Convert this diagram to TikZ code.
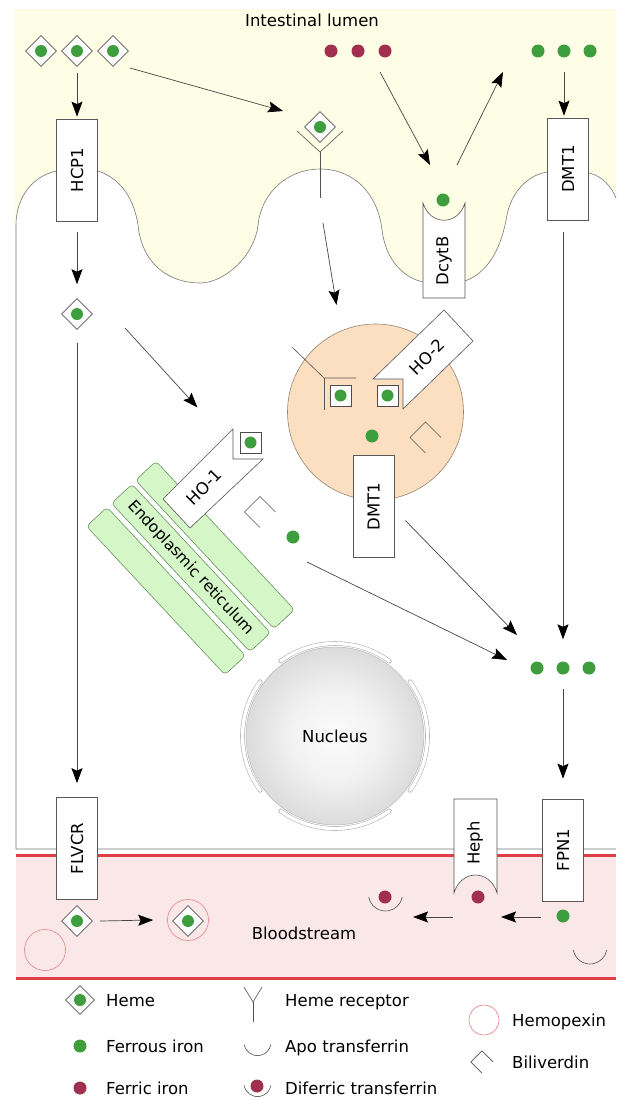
\documentclass[tikz,border=0pt]{standalone}
\usepackage{fontspec}
\setmainfont{DejaVu Sans}
\usetikzlibrary{arrows.meta, positioning, shapes.geometric, calc}

\definecolor{lumen}{RGB}{254,253,229}
\definecolor{blood}{RGB}{250,232,233}
\definecolor{vessel}{RGB}{224,62,70}
\definecolor{ferrous}{RGB}{62,158,62}
\definecolor{ferric}{RGB}{160,48,78}
\definecolor{endofill}{RGB}{252,222,192}
\definecolor{endoline}{RGB}{150,132,112}
\definecolor{erfill}{RGB}{213,246,198}
\definecolor{erline}{RGB}{104,146,96}
\definecolor{hpxline}{RGB}{230,128,128}
\definecolor{memb}{RGB}{120,120,120}

\pgfdeclareradialshading{nucleus}{\pgfpoint{0bp}{0bp}}{color(0bp)=(gray!3); color(12bp)=(gray!10); color(50bp)=(gray!62)}

\newcommand\vtext[1]{\rotatebox{90}{#1}}

\begin{document}
\begin{tikzpicture}[
  x=1pt, y=1pt,
  font=\fontsize{16.5}{19}\selectfont,
  >={Stealth[length=15pt, width=11pt, inset=2.5pt, color=black]},
  arr/.style={->, draw=gray!55!black, line width=0.7pt},
  thinline/.style={draw=gray!65!black, line width=0.6pt},
  protein/.style={draw=gray!70!black, fill=white, line width=0.7pt, minimum width=41pt, minimum height=102pt, inner sep=0pt},
  fetwo/.style={circle, fill=ferrous, minimum size=13pt, inner sep=0pt},
  fethree/.style={circle, fill=ferric, minimum size=13pt, inner sep=0pt},
  heme/.style={diamond, draw=gray!70!black, fill=white, line width=0.6pt, minimum size=31pt, inner sep=0pt,
    path picture={\fill[ferrous] (path picture bounding box.center) circle (6pt);}},
  hemesq/.style={rectangle, draw=black!70, fill=white, line width=0.9pt, minimum size=21pt, inner sep=0pt,
    path picture={\fill[ferrous] (path picture bounding box.center) circle (6pt);}},
  hemopexin/.style={circle, draw=hpxline, line width=0.6pt, minimum size=41pt, inner sep=0pt},
  er/.style={draw=erline, fill=erfill, line width=0.6pt, rounded corners=4pt, rotate=-47, minimum width=203pt, minimum height=28pt, inner sep=0pt},
  envelope/.style={draw=gray!60, double=white, double distance=3.4pt, line width=0.6pt, line cap=round},
  key/.style={anchor=base west, inner sep=0pt},
  apo/.pic={\draw[thinline] (190:17) arc (190:350:17);},
  bili/.pic={\draw[thinline] (15.5,0) -- (0,15.5) -- (-15.5,0) -- (0,-15.5);},
]
  \useasboundingbox (0,0) rectangle (616,-1100);

  % lumen above the brush border
  \fill[lumen] (14,-9) -- (616,-9) -- (616,-198)
    .. controls (612,-188) and (603,-176) .. (589,-173) -- (548,-172)
    .. controls (530,-174) and (512,-190) .. (507,-215)
    .. controls (502,-245) and (490,-272) .. (465,-281) -- (423,-282)
    .. controls (405,-278) and (386,-262) .. (382,-230)
    .. controls (378,-195) and (355,-169) .. (320,-169)
    .. controls (290,-169) and (262,-190) .. (258,-225)
    .. controls (255,-255) and (225,-283) .. (200,-283)
    .. controls (170,-283) and (142,-265) .. (138,-225)
    .. controls (135,-205) and (125,-180) .. (98,-171) -- (57,-171)
    .. controls (35,-175) and (16,-195) .. (16,-225) -- (14,-225) -- cycle;

  \fill[blood] (16,-856) rectangle (616,-978);
  \draw[vessel, line width=3pt] (16,-855) -- (616,-855);
  \draw[vessel, line width=3pt] (16,-978) -- (616,-978);

  % cell outline
  \draw[thinline, draw=memb] (616,-849) -- (16,-849) -- (16,-225)
    .. controls (16,-195) and (35,-175) .. (57,-171) -- (98,-171)
    .. controls (125,-180) and (135,-205) .. (138,-225)
    .. controls (142,-265) and (170,-283) .. (200,-283)
    .. controls (225,-283) and (255,-255) .. (258,-225)
    .. controls (262,-190) and (290,-169) .. (320,-169)
    .. controls (355,-169) and (378,-195) .. (382,-230)
    .. controls (386,-262) and (405,-278) .. (423,-282) -- (465,-281)
    .. controls (490,-272) and (502,-245) .. (507,-215)
    .. controls (512,-190) and (530,-174) .. (548,-172) -- (589,-173)
    .. controls (603,-176) and (612,-188) .. (616,-198);

  \node[circle, draw=endoline, fill=endofill, line width=0.6pt, minimum size=176pt, inner sep=0pt] (endo) at (375.5,-412) {};

  \node[er] (er3) at (166,-591) {};
  \node[er] (er2) at (191,-568) {\fontsize{15.5}{18}\selectfont Endoplasmic reticulum};
  \node[er] (er1) at (215,-545) {};

  \node[circle, draw=gray!60, shading=nucleus, minimum size=178pt, inner sep=0pt] (nuc) at (335,-736) {Nucleus};
  \foreach \s/\e in {-36/36, 54/126, 144/216, 234/306}
    \draw[envelope] ([shift={(\s:92.5)}]nuc.center) arc[start angle=\s, end angle=\e, radius=92.5];

  % transporters
  \node[protein] (hcp) at (77,-170) {\vtext{HCP1}};
  \node[protein] (dmtA) at (568,-169) {\vtext{DMT1}};
  \node[protein] (dmtB) at (373.5,-506.5) {\vtext{DMT1}};
  \node[protein] (flvcr) at (77,-848.5) {\vtext{FLVCR}};
  \node[protein] (fpn) at (563,-850) {\vtext{FPN1}};
  \draw[thinline, fill=white] (423,-203) .. controls (430,-226) and (458,-226) .. (465,-203)
    -- (465,-298) -- (423,-298) -- cycle;
  \node (dcytb) at (444,-261) {\vtext{DcytB}};
  \draw[thinline, fill=white] (454,-799) -- (497,-799) -- (497,-893)
    .. controls (490,-869) and (461,-869) .. (454,-893) -- cycle;
  \node (heph) at (475,-843) {\vtext{Heph}};

  % heme oxygenases
  \draw[thinline, fill=white] (373,-379) -- (444,-310) -- (473,-341) -- (403,-409) -- (403,-379) -- cycle;
  \node[rotate=45] (ho2) at (427,-357) {HO-2};
  \draw[thinline, fill=white] (163,-499) -- (233,-429) -- (233,-459) -- (263,-459) -- (190,-528) -- cycle;
  \node[rotate=45] (ho1) at (204,-487) {HO-1};

  % heme receptor, apical and endosomal
  \node[heme] (rhem) at (320,-127) {};
  \draw[thinline] (297,-131) -- (320,-152) -- (343,-131);
  \draw[thinline] (320,-152) -- (320,-198) coordinate (rbase);
  \draw[thinline] (292,-347) -- (324,-378) -- (356,-378);
  \draw[thinline] (324,-378) -- (324,-410);

  \node[hemesq] (hsqA) at (340.5,-395.5) {};
  \node[hemesq] (hsqB) at (387.5,-395.5) {};
  \node[hemesq] (hsqC) at (250.5,-442.5) {};

  \node[heme] (hemeA) at (41,-51) {};
  \node[heme] (hemeB) at (77,-51) {};
  \node[heme] (hemeC) at (113,-51) {};
  \node[heme] (hemeD) at (77,-314) {};
  \node[heme] (hemeE) at (77,-921) {};
  \node[hemopexin] (hpxA) at (188,-920) {};
  \node[heme] (hemeF) at (188,-921) {};
  \node[hemopexin] (hpxB) at (45,-950) {};

  \node[fethree] (fe3a) at (331,-51) {};
  \node[fethree] (fe3b) at (358,-51) {};
  \node[fethree] (fe3c) at (385,-51) {};
  \node[fetwo] (fe2a) at (538,-51) {};
  \node[fetwo] (fe2b) at (564,-51) {};
  \node[fetwo] (fe2c) at (590,-51) {};
  \node[fetwo] (fe2d) at (443,-200) {};
  \node[fetwo] (fe2e) at (372,-436) {};
  \node[fetwo] (fe2h) at (293,-537) {};
  \node[fetwo] (pl1) at (537,-668) {};
  \node[fetwo] (pl2) at (563,-668) {};
  \node[fetwo] (pl3) at (589,-668) {};
  \node[fetwo] (fe2f) at (563,-916) {};
  \node[fethree] (fe3h) at (478,-897) {};
  \node[fethree] (fe3t) at (385,-897) {};

  \pic at (385.5,-894) {apo};
  \pic at (590,-947) {apo};
  \pic at (425.5,-437.5) {bili};
  \pic at (260,-512) {bili};

  \draw[arr] ([yshift=-6pt]hemeB.south) -- ([yshift=2pt]hcp.north);
  \draw[arr] ([shift={(17,-17)}]hemeC.center) -- ([shift={(-37,16)}]rhem.center);
  \draw[arr] ([shift={(-5,-21)}]fe3c.center) -- ([shift={(-13,35)}]fe2d.center);
  \draw[arr] ([shift={(14,35)}]fe2d.center) -- ([shift={(-35,-21)}]fe2a.center);
  \draw[arr] ([yshift=-14pt]fe2b.south) -- ($(fe2b.south |- dmtA.north)+(0,2)$);
  \draw[arr] ([yshift=-11pt]hcp.south) -- ([yshift=14pt]hemeD.north);
  \draw[arr] ([yshift=-13pt]hemeD.south) -- ([yshift=14pt]flvcr.north);
  \draw[arr] ([shift={(48,-14)}]hemeD.center) -- ([shift={(-53,35)}]hsqC.center);
  \draw[arr] ([shift={(3,-25)}]rbase) -- ([shift={(-39,107)}]endo.center);
  \draw[arr] ($(dmtA.south -| pl2)+(0,-12)$) -- ([yshift=22pt]pl2.north);
  \draw[arr] ([shift={(11,-14)}]dmtB.east) -- ([shift={(-20,33)}]pl1.center);
  \draw[arr] ([shift={(14,-25)}]fe2h.center) -- ([shift={(-30,8)}]pl1.center);
  \draw[arr] ([yshift=-14pt]pl2.south) -- ([yshift=20pt]fpn.north);
  \draw[arr] ([xshift=7pt]hemeE.east) -- ([xshift=-14pt]hpxA.west);
  \draw[arr] ([shift={(-22,-1)}]fe2f.center) -- ([shift={(23,-20)}]fe3h.center);
  \draw[arr] ([shift={(-25,-20)}]fe3h.center) -- ([shift={(28,-20)}]fe3t.center);

  \node (lumenlbl) at (312,-20) {Intestinal lumen};
  \node (bloodlbl) at (304,-933) {Bloodstream};

  % key
  \node[heme, minimum size=29pt] (kHeme) at (80,-1000) {};
  \node[fetwo] (kFe2) at (80,-1046) {};
  \node[fethree] (kFe3) at (80,-1088) {};
  \node[key] (tHeme) at (106,-1006) {Heme};
  \node[key] (tFe2) at (106,-1052) {Ferrous iron};
  \node[key] (tFe3) at (106,-1094) {Ferric iron};

  \coordinate (kRec) at (253,-1002);
  \draw[thinline] (244,-987) -- (kRec) -- (262,-987);
  \draw[thinline] (kRec) -- (253,-1022);
  \pic[scale=0.8] at (257.5,-1042) {apo};
  \node[fethree] (kTf) at (257,-1086) {};
  \pic[scale=0.8] at (257.5,-1083) {apo};
  \node[key] (tRec) at (285,-1006) {Heme receptor};
  \node[key] (tApo) at (285,-1052) {Apo transferrin};
  \node[key] (tTf) at (285,-1094) {Diferric transferrin};

  \node[hemopexin, minimum size=30pt] (kHpx) at (484,-1020) {};
  \pic[scale=0.72] at (482,-1062) {bili};
  \node[key] (tHpx) at (512,-1026) {Hemopexin};
  \node[key] (tBili) at (512,-1068) {Biliverdin};
\end{tikzpicture}
\end{document}
